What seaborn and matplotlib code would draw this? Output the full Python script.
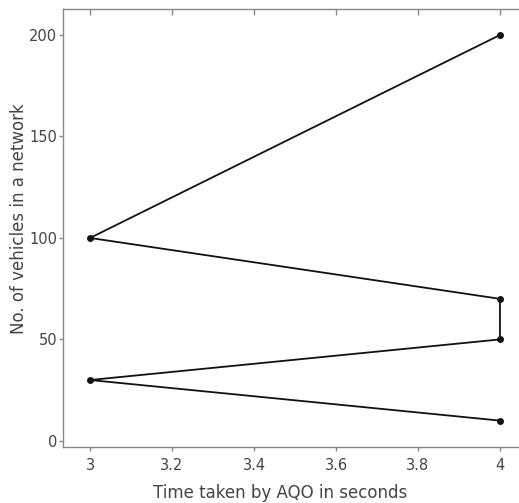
import matplotlib
matplotlib.use('Agg')
import matplotlib.pyplot as plt
import seaborn as sns
import pandas as pd

# data points, in the order they are joined
time_taken = [4, 3, 4, 4, 3, 4]
vehicles = [10, 30, 50, 70, 100, 200]

df = pd.DataFrame({'time': time_taken, 'vehicles': vehicles})

sns.set_style('white')
plt.rcParams['font.family'] = ['DejaVu Sans']

fig = plt.figure(figsize=(5.19, 5.03), dpi=100)
ax = fig.add_axes([63 / 519, 1 - 447 / 503, 455 / 519, 438 / 503])

sns.lineplot(data=df, x='time', y='vehicles', sort=False, estimator=None,
             color='#111111', linewidth=1.3, marker='o', markersize=5,
             markeredgewidth=0, ax=ax)

ax.set_xlim(2.934, 4.044)
ax.set_ylim(-3, 212.8)
ax.set_xticks([3, 3.2, 3.4, 3.6, 3.8, 4])
ax.set_xticklabels(['3', '3.2', '3.4', '3.6', '3.8', '4'])
ax.set_yticks([0, 50, 100, 150, 200])

grey = '#444444'
for side in ['left', 'bottom', 'top']:
    ax.spines[side].set_color('#888888')
    ax.spines[side].set_linewidth(1)
ax.spines['right'].set_visible(False)

ax.tick_params(axis='both', which='both', direction='out', length=3, width=1,
               color='#888888', labelcolor=grey, labelsize=10.5,
               bottom=True, left=True)
ax.tick_params(axis='x', pad=5)
ax.tick_params(axis='y', pad=1)
ax.tick_params(axis='x', top=True)
for t in ax.xaxis.get_major_ticks():
    t.tick2line.set_marker(3)  # inward tick on top
    t.tick2line.set_markersize(4)

ax.set_xlabel('Time taken by AQO in seconds', fontsize=12, color=grey)
ax.set_ylabel('No. of vehicles in a network', fontsize=12, color=grey)
ax.xaxis.set_label_coords(0.5 - 10 / 455, -37 / 438)
ax.yaxis.set_label_coords(-35 / 455, 0.5 + 9 / 438)

fig.savefig('out.png', dpi=100)
